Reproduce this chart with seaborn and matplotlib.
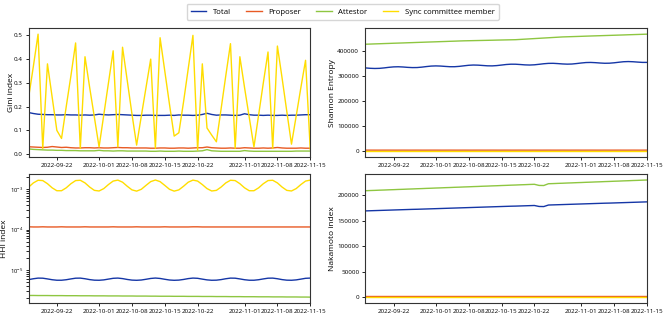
import numpy as np
import pandas as pd
import matplotlib
matplotlib.use('Agg')
import matplotlib.pyplot as plt
import seaborn as sns

plt.rcParams['font.family'] = ['Open Sans', 'DejaVu Sans']

roles = ['Total', 'Proposer', 'Attestor', 'Sync committee member']
colors = ['#1536a6', '#e85a24', '#8ec641', '#ffdd00']
dates = pd.date_range('2022-09-16', '2022-11-15', freq='D')

# Gini index
gini_total = [0.175, 0.171, 0.168, 0.167, 0.166, 0.166, 0.165, 0.165, 0.166, 0.165,
              0.165, 0.164, 0.165, 0.164, 0.165, 0.168, 0.166, 0.165, 0.166, 0.167,
              0.166, 0.165, 0.164, 0.163, 0.163, 0.164, 0.164, 0.163, 0.163, 0.163,
              0.164, 0.163, 0.165, 0.164, 0.164, 0.163, 0.164, 0.167, 0.172, 0.167,
              0.164, 0.165, 0.165, 0.164, 0.163, 0.164, 0.170, 0.166, 0.164, 0.164,
              0.163, 0.164, 0.163, 0.163, 0.164, 0.163, 0.164, 0.164, 0.165, 0.166,
              0.166]
gini_proposer = [0.031, 0.030, 0.029, 0.028, 0.029, 0.032, 0.030, 0.028, 0.029, 0.027,
                 0.026, 0.026, 0.027, 0.027, 0.026, 0.027, 0.026, 0.026, 0.027, 0.028,
                 0.027, 0.027, 0.026, 0.026, 0.026, 0.026, 0.025, 0.025, 0.026, 0.026,
                 0.025, 0.025, 0.026, 0.026, 0.025, 0.026, 0.027, 0.027, 0.030, 0.027,
                 0.026, 0.025, 0.025, 0.026, 0.025, 0.025, 0.027, 0.026, 0.025, 0.025,
                 0.026, 0.025, 0.026, 0.028, 0.026, 0.025, 0.025, 0.025, 0.026, 0.025,
                 0.025]
gini_attestor = [0.022, 0.020, 0.019, 0.018, 0.017, 0.017, 0.016, 0.016, 0.015, 0.015,
                 0.015, 0.014, 0.014, 0.014, 0.014, 0.016, 0.014, 0.014, 0.013, 0.014,
                 0.014, 0.013, 0.013, 0.013, 0.013, 0.013, 0.012, 0.012, 0.013, 0.012,
                 0.012, 0.012, 0.013, 0.012, 0.012, 0.012, 0.013, 0.014, 0.019, 0.014,
                 0.013, 0.012, 0.012, 0.012, 0.012, 0.012, 0.015, 0.013, 0.012, 0.012,
                 0.012, 0.012, 0.012, 0.012, 0.012, 0.012, 0.012, 0.013, 0.013, 0.013,
                 0.013]
gini_sync = [0.24, 0.37, 0.505, 0.024, 0.38, 0.24, 0.10, 0.066, 0.20, 0.33,
             0.468, 0.024, 0.41, 0.28, 0.155, 0.03, 0.165, 0.30, 0.435, 0.03,
             0.45, 0.31, 0.17, 0.038, 0.16, 0.28, 0.40, 0.024, 0.49, 0.35,
             0.21, 0.076, 0.09, 0.22, 0.36, 0.50, 0.017, 0.38, 0.11, 0.08,
             0.052, 0.19, 0.33, 0.465, 0.024, 0.41, 0.28, 0.155, 0.03, 0.165,
             0.30, 0.43, 0.024, 0.455, 0.32, 0.18, 0.042, 0.16, 0.28, 0.395,
             0.02]

# Shannon entropy
shannon_total = [331700, 330200, 329500, 330000, 331800, 334100, 335800, 336300, 335400, 333900,
                 333000, 333200, 334800, 337100, 339000, 339700, 339100, 337700, 336500, 336500,
                 337900, 340100, 342200, 343200, 342700, 341400, 340100, 339800, 341000, 343100,
                 345300, 346500, 346400, 345200, 343800, 343200, 344100, 346100, 348300, 349800,
                 350000, 348900, 347500, 346700, 347200, 349100, 351300, 353100, 353500, 352600,
                 351200, 350200, 350500, 352100, 354300, 356300, 357000, 356300, 354900, 353700,
                 353700]
shannon_proposer = [4600, 4600, 4550, 4550, 4600, 4600, 4550, 4550, 4600, 4550,
                    4550, 4600, 4550, 4550, 4600, 4600, 4550, 4550, 4600, 4550,
                    4550, 4600, 4550, 4550, 4600, 4550, 4550, 4600, 4550, 4550,
                    4600, 4550, 4550, 4600, 4550, 4550, 4600, 4550, 4550, 4600,
                    4550, 4550, 4600, 4550, 4550, 4600, 4550, 4550, 4600, 4550,
                    4550, 4600, 4550, 4550, 4600, 4550, 4550, 4600, 4550, 4550,
                    4600]
shannon_attestor = [426000, 426600, 427300, 427900, 428600, 429200, 429900, 430500, 431100, 431800,
                    432400, 433100, 433700, 434400, 435000, 435600, 436300, 436900, 437600, 438200,
                    438900, 439500, 439900, 440300, 440700, 441100, 441500, 441900, 442400, 442800,
                    443200, 443600, 444000, 445100, 446200, 447300, 448400, 449500, 450600, 451700,
                    452800, 453900, 455000, 455600, 456200, 456800, 457400, 458100, 458700, 459300,
                    459900, 460500, 461100, 461700, 462300, 462900, 463600, 464200, 464800, 465400,
                    466000]
shannon_sync = [9.0, 9.0, 9.0, 9.0, 9.0, 9.0, 9.0, 9.0, 9.0, 9.0,
                9.0, 9.0, 9.0, 9.0, 9.0, 9.0, 9.0, 9.0, 9.0, 9.0,
                9.0, 9.0, 9.0, 9.0, 9.0, 9.0, 9.0, 9.0, 9.0, 9.0,
                9.0, 9.0, 9.0, 9.0, 9.0, 9.0, 9.0, 9.0, 9.0, 9.0,
                9.0, 9.0, 9.0, 9.0, 9.0, 9.0, 9.0, 9.0, 9.0, 9.0,
                9.0, 9.0, 9.0, 9.0, 9.0, 9.0, 9.0, 9.0, 9.0, 9.0,
                9.0]

# HHI index
hhi_total = [5.72e-6, 6.01e-6, 6.23e-6, 6.20e-6, 5.95e-6, 5.68e-6, 5.52e-6, 5.52e-6, 5.68e-6, 5.95e-6,
             6.20e-6, 6.23e-6, 6.01e-6, 5.72e-6, 5.54e-6, 5.51e-6, 5.63e-6, 5.89e-6, 6.16e-6, 6.24e-6,
             6.06e-6, 5.77e-6, 5.56e-6, 5.50e-6, 5.59e-6, 5.83e-6, 6.11e-6, 6.25e-6, 6.11e-6, 5.83e-6,
             5.59e-6, 5.50e-6, 5.56e-6, 5.77e-6, 6.06e-6, 6.24e-6, 6.16e-6, 5.88e-6, 5.63e-6, 5.51e-6,
             5.54e-6, 5.72e-6, 6.01e-6, 6.23e-6, 6.20e-6, 5.95e-6, 5.68e-6, 5.52e-6, 5.52e-6, 5.68e-6,
             5.95e-6, 6.20e-6, 6.23e-6, 6.01e-6, 5.72e-6, 5.54e-6, 5.51e-6, 5.63e-6, 5.88e-6, 6.16e-6,
             6.24e-6]
hhi_proposer = [1.17e-4, 1.16e-4, 1.16e-4, 1.17e-4, 1.16e-4, 1.16e-4, 1.16e-4, 1.17e-4, 1.16e-4, 1.16e-4,
                1.16e-4, 1.16e-4, 1.17e-4, 1.16e-4, 1.16e-4, 1.16e-4, 1.16e-4, 1.16e-4, 1.17e-4, 1.16e-4,
                1.16e-4, 1.16e-4, 1.16e-4, 1.17e-4, 1.16e-4, 1.16e-4, 1.16e-4, 1.16e-4, 1.16e-4, 1.17e-4,
                1.16e-4, 1.16e-4, 1.16e-4, 1.16e-4, 1.16e-4, 1.17e-4, 1.17e-4, 1.16e-4, 1.16e-4, 1.16e-4,
                1.16e-4, 1.16e-4, 1.16e-4, 1.16e-4, 1.16e-4, 1.16e-4, 1.16e-4, 1.16e-4, 1.16e-4, 1.16e-4,
                1.16e-4, 1.16e-4, 1.16e-4, 1.16e-4, 1.16e-4, 1.16e-4, 1.16e-4, 1.16e-4, 1.16e-4, 1.16e-4,
                1.16e-4]
hhi_attestor = [2.31e-6, 2.31e-6, 2.30e-6, 2.30e-6, 2.30e-6, 2.29e-6, 2.29e-6, 2.29e-6, 2.28e-6, 2.28e-6,
                2.28e-6, 2.27e-6, 2.27e-6, 2.27e-6, 2.26e-6, 2.26e-6, 2.26e-6, 2.25e-6, 2.25e-6, 2.25e-6,
                2.24e-6, 2.24e-6, 2.24e-6, 2.23e-6, 2.23e-6, 2.23e-6, 2.22e-6, 2.22e-6, 2.21e-6, 2.21e-6,
                2.21e-6, 2.20e-6, 2.20e-6, 2.20e-6, 2.19e-6, 2.19e-6, 2.19e-6, 2.18e-6, 2.18e-6, 2.18e-6,
                2.17e-6, 2.17e-6, 2.17e-6, 2.16e-6, 2.16e-6, 2.16e-6, 2.15e-6, 2.15e-6, 2.15e-6, 2.14e-6,
                2.14e-6, 2.14e-6, 2.13e-6, 2.13e-6, 2.13e-6, 2.12e-6, 2.12e-6, 2.12e-6, 2.11e-6, 2.11e-6,
                2.10e-6]
hhi_sync = [1.135e-3, 1.44e-3, 1.675e-3, 1.645e-3, 1.377e-3, 1.087e-3, 0.921e-3, 0.921e-3, 1.087e-3, 1.376e-3,
            1.645e-3, 1.675e-3, 1.44e-3, 1.135e-3, 0.94e-3, 0.908e-3, 1.04e-3, 1.312e-3, 1.60e-3, 1.69e-3,
            1.50e-3, 1.19e-3, 0.968e-3, 0.90e-3, 1.0e-3, 1.25e-3, 1.55e-3, 1.70e-3, 1.55e-3, 1.25e-3,
            1.0e-3, 0.90e-3, 0.967e-3, 1.19e-3, 1.50e-3, 1.69e-3, 1.60e-3, 1.31e-3, 1.04e-3, 0.908e-3,
            0.94e-3, 1.135e-3, 1.44e-3, 1.675e-3, 1.645e-3, 1.377e-3, 1.087e-3, 0.921e-3, 0.921e-3, 1.087e-3,
            1.376e-3, 1.645e-3, 1.675e-3, 1.44e-3, 1.135e-3, 0.94e-3, 0.908e-3, 1.04e-3, 1.31e-3, 1.60e-3,
            1.69e-3]

# Nakamoto index
nakamoto_total = [169100, 169400, 169700, 170000, 170300, 170600, 170900, 171200, 171500, 171800,
                  172100, 172300, 172600, 172900, 173200, 173500, 173800, 174100, 174400, 174700,
                  175000, 175300, 175600, 175900, 176200, 176500, 176800, 177100, 177400, 177700,
                  178000, 178300, 178500, 178800, 179100, 179400, 179700, 177800, 177600, 180600,
                  180900, 181200, 181500, 181800, 182100, 182400, 182700, 183000, 183300, 183600,
                  183900, 184200, 184400, 184700, 185000, 185300, 185600, 185900, 186200, 186500,
                  186800]
nakamoto_proposer = [2300, 2300, 2300, 2300, 2300, 2300, 2300, 2300, 2300, 2300,
                     2300, 2300, 2300, 2300, 2300, 2300, 2300, 2300, 2300, 2300,
                     2300, 2300, 2300, 2300, 2300, 2300, 2300, 2300, 2300, 2300,
                     2300, 2300, 2300, 2300, 2300, 2300, 2300, 2300, 2300, 2300,
                     2300, 2300, 2300, 2300, 2300, 2300, 2300, 2300, 2300, 2300,
                     2300, 2300, 2300, 2300, 2300, 2300, 2300, 2300, 2300, 2300,
                     2300]
nakamoto_attestor = [208600, 209000, 209300, 209700, 210000, 210400, 210700, 211100, 211400, 211800,
                     212100, 212500, 212800, 213200, 213500, 213900, 214200, 214600, 214900, 215300,
                     215600, 216000, 216300, 216700, 217000, 217400, 217700, 218100, 218400, 218800,
                     219100, 219500, 219800, 220200, 220500, 220900, 221200, 219000, 218800, 222300,
                     222600, 223000, 223300, 223700, 224000, 224400, 224700, 225100, 225400, 225800,
                     226100, 226500, 226800, 227200, 227500, 227900, 228200, 228600, 228900, 229300,
                     229600]
nakamoto_sync = [250, 250, 250, 250, 250, 250, 250, 250, 250, 250,
                 250, 250, 250, 250, 250, 250, 250, 250, 250, 250,
                 250, 250, 250, 250, 250, 250, 250, 250, 250, 250,
                 250, 250, 250, 250, 250, 250, 250, 250, 250, 250,
                 250, 250, 250, 250, 250, 250, 250, 250, 250, 250,
                 250, 250, 250, 250, 250, 250, 250, 250, 250, 250,
                 250]


def long_df(series):
    parts = []
    for role, vals in zip(roles, series):
        parts.append(pd.DataFrame({'date': dates, 'role': role, 'value': vals}))
    return pd.concat(parts, ignore_index=True)


def panel(ax, series, ylabel, label_x, log=False):
    sns.lineplot(data=long_df(series), x='date', y='value', hue='role',
                 hue_order=roles, palette=colors, lw=1.0, ax=ax, legend=False)
    if log:
        ax.set_yscale('log')
    ax.set_xlim(dates[0], dates[-1])
    ax.set_xlabel('')
    ax.set_ylabel(ylabel, fontsize=6)
    ax.yaxis.set_label_coords(label_x, 0.5)
    ax.tick_params(labelsize=4.5, length=2.5, width=0.6, pad=2)
    for s in ax.spines.values():
        s.set_linewidth(0.8)
        s.set_color('#333333')


fig, axes = plt.subplots(2, 2, figsize=(6.64, 3.17), dpi=100)
fig.subplots_adjust(left=0.0432, right=0.9744, top=0.9107, bottom=0.0442,
                    wspace=0.196, hspace=0.132)

panel(axes[0, 0], [gini_total, gini_proposer, gini_attestor, gini_sync], 'Gini index', -0.050)
panel(axes[0, 1], [shannon_total, shannon_proposer, shannon_attestor, shannon_sync], 'Shannon Entropy', -0.103)
panel(axes[1, 0], [hhi_total, hhi_proposer, hhi_attestor, hhi_sync], 'HHI index', -0.072, log=True)
panel(axes[1, 1], [nakamoto_total, nakamoto_proposer, nakamoto_attestor, nakamoto_sync], 'Nakamoto index', -0.103)
axes[1, 0].tick_params(axis='y', labelsize=4.2, pad=1.5)

handles = [plt.Line2D([], [], color=c, lw=1.0) for c in colors]
fig.legend(handles, roles, loc='upper center', bbox_to_anchor=(0.516, 1.0), ncol=4,
           fontsize=5.6, frameon=True, borderpad=0.55, columnspacing=2.0, handlelength=2.0)

fig.savefig('out.png', dpi=100)
